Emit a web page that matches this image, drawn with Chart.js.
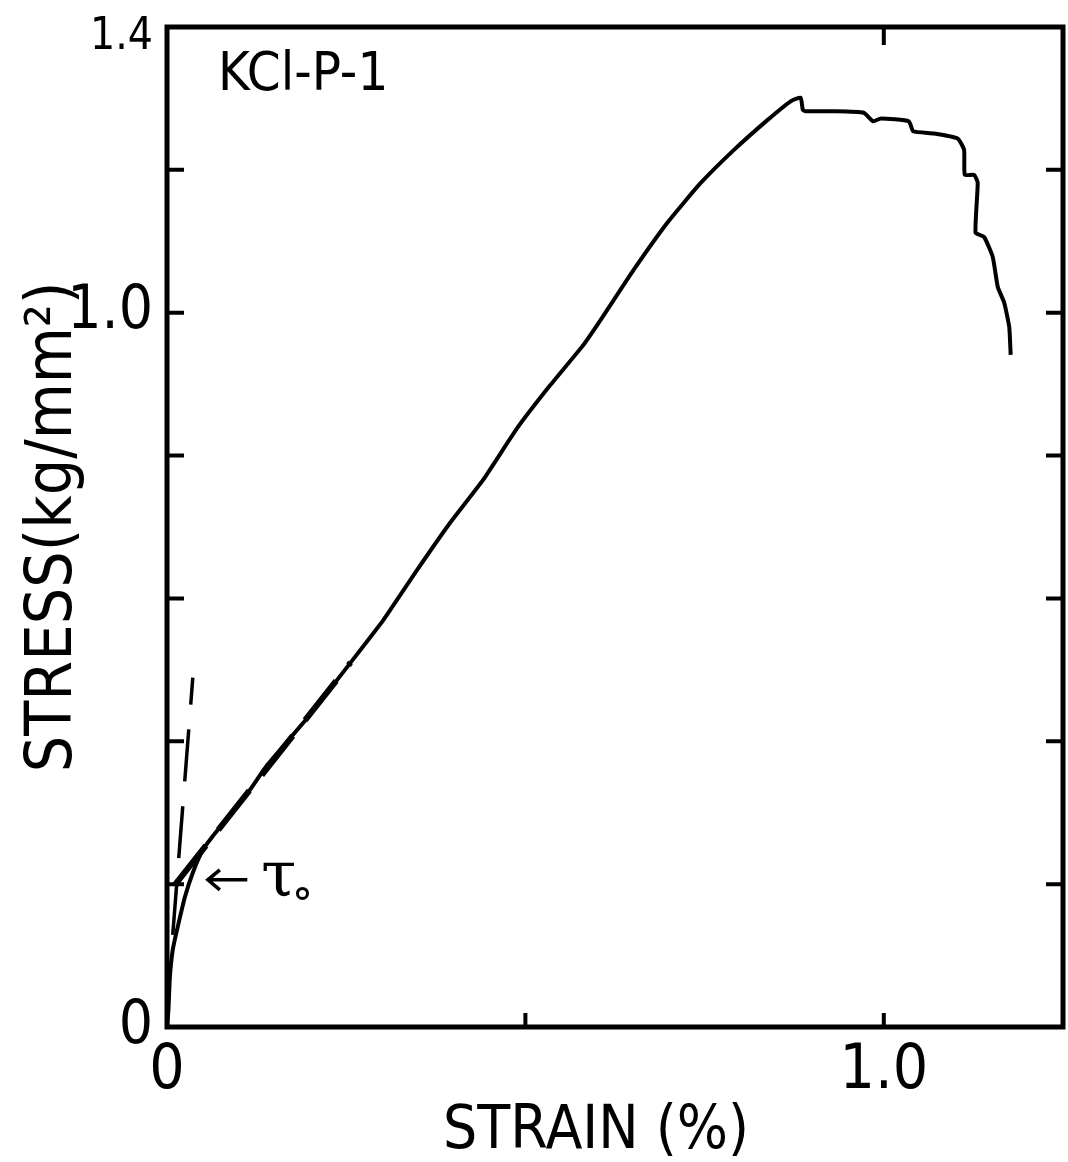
<!DOCTYPE html>
<html>
<head>
<meta charset="utf-8">
<script src="https://cdn.jsdelivr.net/npm/chart.js@4/dist/chart.umd.min.js"></script>
<style>
html,body{margin:0;padding:0;background:#fff;}
#wrap{width:1068px;height:1162px;}
</style>
</head>
<body>
<div id="wrap"><canvas id="c" width="1068" height="1162"></canvas></div>
<script>
// ---- data (strain %, stress kg/mm^2) ----
const strain = [0.000,0.002,0.004,0.008,0.014,0.025,0.036,0.050,0.063,0.088,0.113,0.140,0.196,0.256,0.302,0.349,0.395,0.441,0.489,0.535,0.581,0.605,0.651,0.698,0.744,0.791,0.838,0.870,0.884,0.887,0.891,0.930,0.972,0.985,0.996,1.035,1.041,1.070,1.103,1.112,1.113,1.126,1.131,1.128,1.140,1.152,1.159,1.168,1.175,1.177];
const stress = [0.000,0.024,0.070,0.108,0.136,0.182,0.216,0.248,0.266,0.297,0.328,0.367,0.433,0.510,0.570,0.640,0.706,0.766,0.839,0.899,0.955,0.990,1.060,1.126,1.181,1.228,1.270,1.296,1.301,1.284,1.282,1.282,1.280,1.268,1.272,1.268,1.254,1.251,1.244,1.228,1.193,1.193,1.182,1.112,1.106,1.078,1.036,1.014,0.980,0.941];

// elastic (steep) construction line
const elasticStrain = [0.008, 0.036];
const elasticStress = [0.129, 0.489];
// work-hardening tangent construction line
const tangentStrain = [0.011, 0.256];
const tangentStress = [0.199, 0.510];

// axis ticks
const xLabelValues = [0, 1.0];
const xLabelTexts = ['0', '1.0'];
const yLabelValues = [0, 1.0, 1.4];
const yLabelTexts = ['0', '1.0', '1.4'];
const xMarksBottom = [0.5, 1.0];
const xMarksTop = [1.0];
const yMarks = [0.2, 0.4, 0.6, 0.8, 1.0, 1.2];

const specimenLabel = 'KCl-P-1';
const tauLabel = 'τ';

const FONT = "'Liberation Sans Narrow', 'DejaVu Sans Condensed', 'Liberation Sans', sans-serif";

function pts(xs, ys){ return xs.map((x,i)=>({x:x, y:ys[i]})); }

const framePlugin = {
  id: 'frame',
  afterDatasetsDraw(chart){
    const {ctx, chartArea:a, scales:{x, y}} = chart;
    ctx.save();
    ctx.strokeStyle = '#000';
    ctx.lineCap = 'butt';
    // frame
    ctx.lineWidth = 5;
    ctx.strokeRect(a.left, a.top, a.right - a.left, a.bottom - a.top);
    // inward ticks
    ctx.lineWidth = 4;
    ctx.beginPath();
    yMarks.forEach(v => {
      const py = y.getPixelForValue(v);
      ctx.moveTo(a.left, py); ctx.lineTo(a.left + 17, py);
      ctx.moveTo(a.right, py); ctx.lineTo(a.right - 17, py);
    });
    xMarksBottom.forEach(v => {
      const px = x.getPixelForValue(v);
      ctx.moveTo(px, a.bottom); ctx.lineTo(px, a.bottom - 14);
    });
    xMarksTop.forEach(v => {
      const px = x.getPixelForValue(v);
      ctx.moveTo(px, a.top); ctx.lineTo(px, a.top + 18);
    });
    ctx.stroke();

    // specimen label
    ctx.fillStyle = '#000';
    ctx.font = "54px " + FONT;
    ctx.textAlign = 'left';
    ctx.textBaseline = 'alphabetic';
    ctx.fillText(specimenLabel, x.getPixelForValue(0.071), y.getPixelForValue(1.312));

    // tau_0 annotation with arrow
    const ay = y.getPixelForValue(0.206);
    const ax0 = x.getPixelForValue(0.057);
    const ax1 = x.getPixelForValue(0.112);
    ctx.lineWidth = 3.5;
    ctx.beginPath();
    ctx.moveTo(ax0, ay); ctx.lineTo(ax1, ay);
    ctx.moveTo(ax0 + 12, ay - 10); ctx.lineTo(ax0, ay); ctx.lineTo(ax0 + 12, ay + 10);
    ctx.stroke();
    ctx.font = "64px 'DejaVu Serif', serif";
    ctx.fillText(tauLabel, x.getPixelForValue(0.131), y.getPixelForValue(0.183));
    ctx.lineWidth = 3;
    ctx.beginPath();
    ctx.arc(x.getPixelForValue(0.189), y.getPixelForValue(0.187), 5, 0, Math.PI*2);
    ctx.stroke();
    ctx.restore();
  }
};

new Chart(document.getElementById('c'), {
  type: 'scatter',
  data: {
    datasets: [
      {
        label: 'stress-strain',
        data: pts(strain, stress),
        showLine: true,
        borderColor: '#000',
        borderWidth: 4,
        pointRadius: 0,
        tension: 0.15
      },
      {
        label: 'elastic line',
        data: pts(elasticStrain, elasticStress),
        showLine: true,
        borderColor: '#000',
        borderWidth: 3.5,
        borderDash: [52, 25],
        pointRadius: 0
      },
      {
        label: 'tangent line',
        data: pts(tangentStrain, tangentStress),
        showLine: true,
        borderColor: '#000',
        borderWidth: 6,
        borderDash: [50, 20],
        pointRadius: 0
      }
    ]
  },
  options: {
    responsive: false,
    devicePixelRatio: 1,
    animation: false,
    layout: { padding: { top: 27, right: 5, left: 0, bottom: 0 } },
    plugins: { legend: { display: false }, tooltip: { enabled: false } },
    scales: {
      x: {
        type: 'linear',
        min: 0, max: 1.25,
        grid: { display: false, drawTicks: false },
        border: { display: false },
        afterBuildTicks: s => { s.ticks = xLabelValues.map(v => ({value: v})); },
        afterFit: s => { s.height = 135; s.paddingLeft = 0; s.paddingRight = 0; },
        ticks: {
          color: '#000',
          padding: 8,
          font: { family: FONT, size: 62 },
          callback: (v) => xLabelTexts[xLabelValues.indexOf(v)]
        },
        title: {
          display: true,
          text: 'STRAIN (%)\u2002\u2009',
          color: '#000',
          font: { family: FONT, size: 60, lineHeight: 1.0 },
          padding: { top: 0, bottom: 0 }
        }
      },
      y: {
        type: 'linear',
        min: 0, max: 1.4,
        grid: { display: false, drawTicks: false },
        border: { display: false },
        afterBuildTicks: s => { s.ticks = yLabelValues.map(v => ({value: v})); },
        afterFit: s => { s.width = 167; s.paddingTop = 0; s.paddingBottom = 0; },
        ticks: {
          color: '#000',
          padding: 14,
          font: ctx => (ctx.tick && ctx.tick.value === 1.4)
            ? { family: FONT, size: 44, lineHeight: 0.5 }
            : { family: FONT, size: 60 },
          callback: (v) => {
            const t = yLabelTexts[yLabelValues.indexOf(v)];
            return v === 1.4 ? ['', t] : t;
          }
        },
        title: {
          display: true,
          text: 'STRESS(kg/mm²)',
          color: '#000',
          font: { family: FONT, size: 64 },
          padding: { top: 16, bottom: 0 }
        }
      }
    }
  },
  plugins: [framePlugin]
});
</script>
</body>
</html>
